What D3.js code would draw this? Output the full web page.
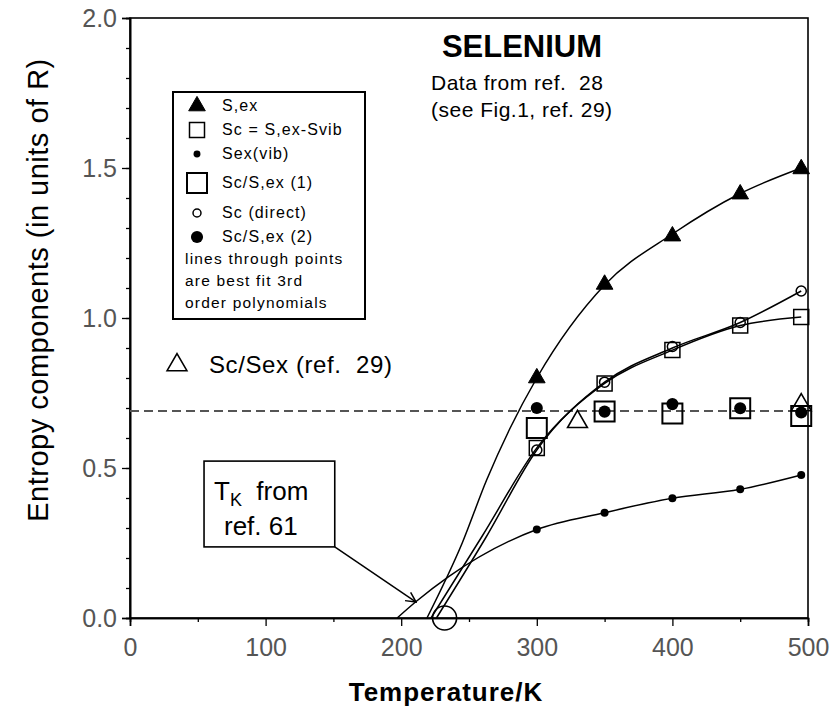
<!DOCTYPE html>
<html>
<head>
<meta charset="utf-8">
<script src="https://cdn.jsdelivr.net/npm/d3@7"></script>
<style>
  body { margin: 0; background: #fff; }
  text { font-family: "Liberation Sans", Arial, sans-serif; white-space: pre; }
</style>
</head>
<body>
<div id="chart-container"></div>
<script>
// Data (temperature in K, entropy in units of R)
const temps = [300, 350, 400, 450, 495];
const sEx = [0.80, 1.112, 1.273, 1.413, 1.497];
const scDiff = [0.567, 0.782, 0.893, 0.975, 1.003];
const sVib = [0.295, 0.351, 0.399, 0.429, 0.477];
const ratio1 = [0.633, 0.688, 0.682, 0.699, 0.673];
const scDirect = [0.56, 0.786, 0.905, 0.985, 1.09];
const ratio2 = [0.70, 0.688, 0.713, 0.699, 0.685];
const ref29Temps = [330, 495];
const ref29 = [0.654, 0.71];
const ratioLevel = 0.69;
const tZero = 232;

// Fitted curves
const sExFitT = [219, 245, 263, 280, 300, 350, 400, 450, 495];
const sExFit = [0, 0.25, 0.46, 0.63, 0.80, 1.11, 1.28, 1.415, 1.50];
const scDiffFitT = [222, 260, 300, 350, 400, 450, 495];
const scDiffFit = [0, 0.275, 0.567, 0.782, 0.893, 0.975, 1.003];
const scDirectFitT = [226, 262, 300, 350, 400, 450, 495];
const scDirectFit = [0, 0.265, 0.56, 0.786, 0.9, 0.985, 1.09];
const sVibFitT = [197, 211, 235, 300, 350, 400, 450, 495];
const sVibFit = [0, 0.055, 0.138, 0.295, 0.351, 0.399, 0.429, 0.477];

// Axis ticks
const xMajor = [0, 100, 200, 300, 400, 500];
const xMinor = [50, 150, 250, 350, 450];
const yMajor = [0, 0.5, 1.0, 1.5, 2.0];
const yMinor = d3.range(0, 2.01, 0.1);

const legendLabels = ['S,ex', 'Sc = S,ex-Svib', 'Sex(vib)', 'Sc/S,ex (1)', 'Sc (direct)', 'Sc/S,ex (2)'];
const legendNote = ['lines through points', 'are best fit 3rd', 'order polynomials'];

const svgWidth = 838;
const svgHeight = 710;

const svg = d3.select('#chart-container')
  .append('svg')
  .attr('width', svgWidth)
  .attr('height', svgHeight);

const x = d3.scaleLinear().domain([0, 500]).range([130, 808]);
const y = d3.scaleLinear().domain([0, 2]).range([618, 18]);

// Frame
svg.append('rect')
  .attr('x', x(0)).attr('y', y(2))
  .attr('width', x(500) - x(0)).attr('height', y(0) - y(2))
  .attr('fill', 'none').attr('stroke', '#000').attr('stroke-width', 1.6);

// Axes: minor then major ticks
svg.append('g').attr('transform', 'translate(0,' + y(0) + ')')
  .call(d3.axisBottom(x).tickValues(xMinor).tickSize(4).tickFormat(''));
const gx = svg.append('g').attr('transform', 'translate(0,' + y(0) + ')')
  .call(d3.axisBottom(x).tickValues(xMajor).tickSize(8).tickPadding(12).tickFormat(d3.format('d')));
svg.append('g').attr('transform', 'translate(' + x(0) + ',0)')
  .call(d3.axisLeft(y).tickValues(yMinor).tickSize(4).tickFormat(''));
const gy = svg.append('g').attr('transform', 'translate(' + x(0) + ',0)')
  .call(d3.axisLeft(y).tickValues(yMajor).tickSize(8).tickPadding(5).tickFormat(d3.format('.1f')));

svg.selectAll('.domain').attr('stroke', '#000').attr('stroke-width', 1.6);
svg.selectAll('.tick line').attr('stroke', '#000').attr('stroke-width', 1.3);
[gx, gy].forEach(g => g.selectAll('text')
  .style('font-family', '"Liberation Sans", Arial, sans-serif')
  .style('font-size', '25px')
  .attr('fill', '#555'));

// Axis titles
svg.append('text')
  .attr('x', 446).attr('y', 701)
  .attr('text-anchor', 'middle')
  .style('font-size', '26px').style('font-weight', 'bold').style('letter-spacing', '1px')
  .text('Temperature/K');

svg.append('text')
  .attr('transform', 'translate(48,290) rotate(-90)')
  .attr('text-anchor', 'middle')
  .style('font-size', '29px').style('letter-spacing', '0.5px')
  .text('Entropy components (in units of R)');

// Dashed reference level
svg.append('line')
  .attr('x1', x(0)).attr('x2', x(500))
  .attr('y1', y(ratioLevel)).attr('y2', y(ratioLevel))
  .attr('stroke', '#555').attr('stroke-width', 2)
  .attr('stroke-dasharray', '9,5');

// Fitted curves
const line = d3.line().x(d => x(d[0])).y(d => y(d[1])).curve(d3.curveMonotoneX);
function drawFit(ts, vs) {
  svg.append('path')
    .datum(ts.map((t, i) => [t, vs[i]]))
    .attr('d', line)
    .attr('fill', 'none')
    .attr('stroke', '#000')
    .attr('stroke-width', 1.5);
}
drawFit(sExFitT, sExFit);
drawFit(scDiffFitT, scDiffFit);
drawFit(scDirectFitT, scDirectFit);
drawFit(sVibFitT, sVibFit);

// Marker styles
const styles = {
  tri: { type: d3.symbolTriangle, size: 120, fill: '#000', sw: 1 },
  sq: { type: d3.symbolSquare, size: 225, fill: 'none', sw: 1.5 },
  dot: { type: d3.symbolCircle, size: 50, fill: '#000', sw: 0 },
  bigSq: { type: d3.symbolSquare, size: 400, fill: 'none', sw: 2 },
  ring: { type: d3.symbolCircle, size: 80, fill: 'none', sw: 1.5 },
  disc: { type: d3.symbolCircle, size: 115, fill: '#000', sw: 0 },
  openTri: { type: d3.symbolTriangle, size: 170, fill: 'none', sw: 1.6 }
};

function marker(g, st, px, py) {
  g.append('path')
    .attr('d', d3.symbol().type(st.type).size(st.size)())
    .attr('transform', 'translate(' + px + ',' + py + ')')
    .attr('fill', st.fill)
    .attr('stroke', '#000')
    .attr('stroke-width', st.sw);
}

function drawPoints(ts, vs, st) {
  const g = svg.append('g');
  ts.forEach((t, i) => marker(g, st, x(t), y(vs[i])));
}
drawPoints(temps, ratio1, styles.bigSq);
drawPoints(temps, scDiff, styles.sq);
drawPoints(temps, sEx, styles.tri);
drawPoints(temps, sVib, styles.dot);
drawPoints(temps, scDirect, styles.ring);
drawPoints(temps, ratio2, styles.disc);
drawPoints(ref29Temps, ref29, styles.openTri);

// Open circle where the configurational entropy vanishes
svg.append('circle')
  .attr('cx', x(tZero)).attr('cy', y(0)).attr('r', 12)
  .attr('fill', 'none').attr('stroke', '#000').attr('stroke-width', 1.6);

// Title block
svg.append('text').attr('x', 522).attr('y', 57).attr('text-anchor', 'middle')
  .style('font-size', '31px').style('font-weight', 'bold').text('SELENIUM');
svg.append('text').attr('x', 431).attr('y', 90)
  .style('font-size', '21px').style('letter-spacing', '0.5px').text('Data from ref.  28');
svg.append('text').attr('x', 431).attr('y', 117)
  .style('font-size', '21px').style('letter-spacing', '0.5px').text('(see Fig.1, ref. 29)');

// Legend box
const legend = svg.append('g');
legend.append('rect')
  .attr('x', 173).attr('y', 92).attr('width', 192).attr('height', 227)
  .attr('fill', '#fff').attr('stroke', '#000').attr('stroke-width', 2);
const legendStyles = [styles.tri, styles.sq, styles.dot, styles.bigSq, styles.ring, styles.disc];
const legendY = [106, 130, 154, 183, 213, 237];
legendLabels.forEach((lab, i) => {
  const st = Object.assign({}, legendStyles[i]);
  if (i === 2) st.size = 38;
  if (i === 4) st.size = 50;
  marker(legend, st, 197, legendY[i]);
  legend.append('text')
    .attr('x', 222).attr('y', legendY[i] + 5)
    .style('font-size', '16px').style('letter-spacing', '1.1px')
    .text(lab);
});
legendNote.forEach((t, i) => {
  legend.append('text')
    .attr('x', 185).attr('y', 264 + i * 22)
    .style('font-size', '15.5px').style('letter-spacing', '1.2px')
    .text(t);
});

// Sc/Sex (ref. 29) key
marker(svg, styles.openTri, 177, 365);
svg.append('text').attr('x', 209).attr('y', 373)
  .style('font-size', '24px').style('letter-spacing', '0.6px')
  .text('Sc/Sex (ref.  29)');

// T_K annotation box with arrow
const box = { t0: 54.6, t1: 151, v0: 0.237, v1: 0.523 };
const tip = { t: 211, v: 0.053 };
svg.append('rect')
  .attr('x', x(box.t0)).attr('y', y(box.v1))
  .attr('width', x(box.t1) - x(box.t0)).attr('height', y(box.v0) - y(box.v1))
  .attr('fill', '#fff').attr('stroke', '#000').attr('stroke-width', 1.6);
const tk = svg.append('text').attr('x', 214).attr('y', 500).style('font-size', '26px');
tk.append('tspan').text('T');
tk.append('tspan').attr('dy', 6).style('font-size', '18px').text('K');
tk.append('tspan').attr('dy', -6).text('  from');
svg.append('text').attr('x', 224).attr('y', 535).style('font-size', '26px').text('ref. 61');

svg.append('defs').append('marker')
  .attr('id', 'arrow').attr('viewBox', '0 0 12 12')
  .attr('refX', 11).attr('refY', 6)
  .attr('markerWidth', 12).attr('markerHeight', 12)
  .attr('markerUnits', 'userSpaceOnUse')
  .attr('orient', 'auto')
  .append('path').attr('d', 'M1,1 L11,6 L1,11')
  .attr('fill', 'none').attr('stroke', '#000').attr('stroke-width', 1.5);
svg.append('line')
  .attr('x1', x(box.t1)).attr('y1', y(box.v0))
  .attr('x2', x(tip.t)).attr('y2', y(tip.v))
  .attr('stroke', '#000').attr('stroke-width', 1.5)
  .attr('marker-end', 'url(#arrow)');
</script>
</body>
</html>
